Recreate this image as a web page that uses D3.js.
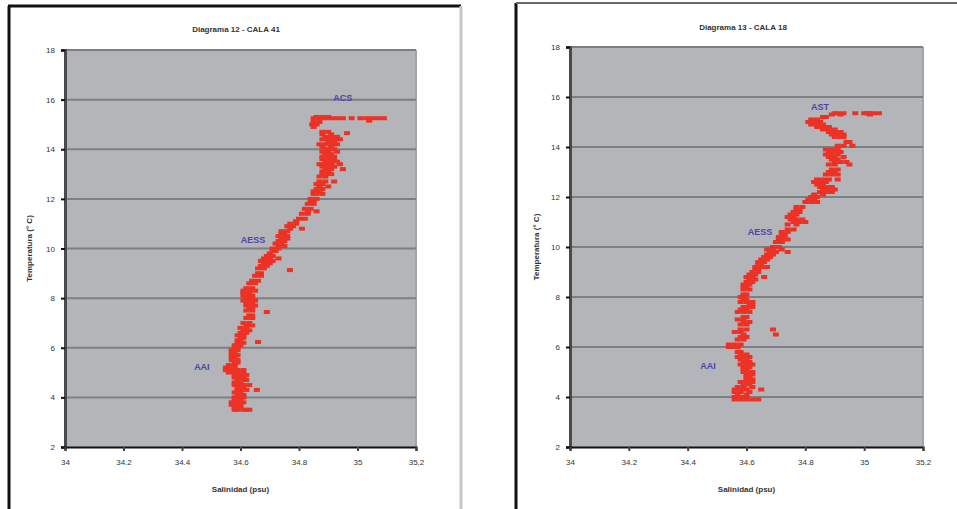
<!DOCTYPE html>
<html>
<head>
<meta charset="utf-8">
<script src="https://cdn.jsdelivr.net/npm/d3@7"></script>
<style>
  html, body { margin: 0; padding: 0; background: #ffffff; }
  svg { display: block; }
</style>
</head>
<body>
<svg id="chart" width="957" height="509"></svg>
<script>
// Axis ticks shared by both T-S diagrams
const salinityTicks = [34, 34.2, 34.4, 34.6, 34.8, 35, 35.2];
const salinityTickLabels = ["34", "34.2", "34.4", "34.6", "34.8", "35", "35.2"];
const temperatureTicks = [2, 4, 6, 8, 10, 12, 14, 16, 18];

const titles = ["Diagrama 12 - CALA 41", "Diagrama 13 - CALA 18"];
const xAxisTitle = "Salinidad (psu)";
const yAxisTitle = "Temperatura (° C)";

// Water-mass labels: [salinity, temperature, text]
const massLabels41 = [[34.95, 16.07, "ACS"], [34.643, 10.34, "AESS"], [34.468, 5.22, "AAI"]];
const massLabels18 = [[34.85, 15.6, "AST"], [34.646, 10.6, "AESS"], [34.469, 5.24, "AAI"]];

// CALA 41 observations: [salinity (psu), temperature (°C)]
const cala41 = [
  [34.85,15.25],[34.87,15.25],[34.89,15.25],[34.91,15.25],[34.93,15.25],[34.95,15.25],
  [34.98,15.25],[35.01,15.25],[35.03,15.25],[35.05,15.25],[35.07,15.25],[35.09,15.25],
  [34.86,15.3],[34.88,15.3],[34.90,15.3],[35.04,15.15],
  [34.85,15.1],[34.87,15.1],[34.845,15.0],[34.86,15.0],[34.85,14.9],[34.964,14.65],
  [34.88,14.7],[34.90,14.7],[34.88,14.6],[34.91,14.6],
  [34.89,14.5],[34.91,14.5],[34.93,14.5],[34.88,14.4],[34.90,14.4],[34.92,14.4],[34.94,14.4],
  [34.90,14.3],[34.92,14.3],[34.87,14.2],[34.89,14.2],[34.91,14.2],[34.93,14.2],
  [34.88,14.1],[34.91,14.1],[34.89,14.0],[34.90,14.0],[34.92,14.0],
  [34.88,13.9],[34.90,13.9],[34.93,13.9],[34.89,13.8],[34.91,13.8],
  [34.88,13.7],[34.90,13.7],[34.92,13.7],[34.88,13.6],[34.90,13.6],[34.92,13.6],
  [34.89,13.5],[34.91,13.5],[34.93,13.5],[34.87,13.4],[34.89,13.4],[34.91,13.4],[34.94,13.4],
  [34.88,13.3],[34.90,13.3],[34.92,13.3],[34.89,13.2],[34.91,13.2],[34.95,13.2],
  [34.88,13.1],[34.90,13.1],[34.88,13.0],[34.90,13.0],[34.91,13.0],[34.87,12.9],[34.89,12.9],
  [34.87,12.7],[34.89,12.7],[34.92,12.7],[34.86,12.6],[34.88,12.6],
  [34.87,12.5],[34.90,12.5],[34.86,12.4],[34.88,12.4],[34.85,12.3],[34.87,12.3],
  [34.85,12.2],[34.86,12.2],[34.88,12.2],[34.84,12.0],[34.86,12.0],
  [34.84,11.9],[34.85,11.9],[34.83,11.8],[34.85,11.8],[34.82,11.6],[34.84,11.6],
  [34.83,11.5],[34.86,11.5],[34.81,11.4],[34.83,11.4],[34.80,11.2],[34.82,11.2],[34.79,11.1],
  [34.77,11.0],[34.79,11.0],[34.76,10.9],[34.78,10.9],[34.77,10.8],[34.81,10.8],
  [34.74,10.7],[34.76,10.7],[34.74,10.6],[34.75,10.6],[34.73,10.5],[34.75,10.5],[34.76,10.5],
  [34.74,10.4],[34.76,10.4],[34.73,10.3],[34.75,10.3],[34.72,10.2],[34.74,10.2],
  [34.73,10.1],[34.75,10.1],[34.71,10.0],[34.73,10.0],[34.71,9.9],[34.72,9.9],[34.70,9.8],
  [34.69,9.7],[34.71,9.7],[34.68,9.6],[34.70,9.6],[34.73,9.6],
  [34.67,9.5],[34.69,9.5],[34.71,9.5],[34.68,9.4],[34.70,9.4],
  [34.67,9.3],[34.69,9.3],[34.769,9.13],[34.66,9.2],[34.68,9.2],
  [34.66,9.0],[34.67,9.0],[34.65,8.9],[34.67,8.9],[34.64,8.7],[34.66,8.7],
  [34.63,8.6],[34.65,8.6],[34.62,8.4],[34.64,8.4],[34.61,8.3],[34.63,8.3],[34.65,8.3],
  [34.61,8.2],[34.63,8.2],[34.61,8.1],[34.62,8.1],[34.64,8.1],[34.62,8.0],[34.64,8.0],
  [34.61,7.9],[34.63,7.9],[34.65,7.9],[34.62,7.8],[34.64,7.8],
  [34.62,7.7],[34.63,7.7],[34.65,7.7],[34.63,7.6],[34.64,7.6],
  [34.62,7.5],[34.64,7.5],[34.69,7.44],[34.63,7.3],[34.64,7.3],[34.62,7.2],[34.64,7.2],
  [34.61,7.0],[34.63,7.0],[34.62,6.9],[34.64,6.9],[34.60,6.8],[34.62,6.8],
  [34.61,6.7],[34.63,6.7],[34.60,6.6],[34.62,6.6],[34.59,6.5],[34.61,6.5],
  [34.60,6.4],[34.61,6.4],[34.59,6.3],[34.60,6.3],[34.59,6.2],[34.61,6.2],[34.66,6.23],
  [34.58,6.1],[34.60,6.1],[34.58,6.0],[34.59,6.0],[34.57,5.9],[34.59,5.9],
  [34.57,5.8],[34.58,5.8],[34.57,5.7],[34.59,5.7],[34.57,5.6],[34.58,5.6],
  [34.57,5.5],[34.59,5.5],[34.58,5.4],[34.59,5.4],[34.56,5.3],[34.58,5.3],
  [34.55,5.2],[34.56,5.2],[34.58,5.2],[34.55,5.1],[34.57,5.1],[34.59,5.1],[34.61,5.1],
  [34.56,5.0],[34.58,5.0],[34.59,5.0],[34.61,5.0],[34.58,4.9],[34.60,4.9],[34.62,4.9],
  [34.58,4.8],[34.60,4.8],[34.61,4.8],[34.59,4.7],[34.61,4.7],[34.62,4.7],
  [34.58,4.6],[34.60,4.6],[34.58,4.5],[34.59,4.5],[34.61,4.5],[34.63,4.5],
  [34.59,4.4],[34.61,4.4],[34.59,4.3],[34.60,4.3],[34.62,4.3],[34.656,4.3],
  [34.58,4.2],[34.60,4.2],[34.59,4.1],[34.61,4.1],[34.58,4.0],[34.59,4.0],[34.61,4.0],
  [34.58,3.9],[34.60,3.9],[34.57,3.8],[34.59,3.8],[34.61,3.8],
  [34.57,3.7],[34.59,3.7],[34.60,3.7],[34.58,3.6],[34.60,3.6],
  [34.58,3.5],[34.59,3.5],[34.61,3.5],[34.62,3.5],[34.63,3.5]
];

// CALA 18 observations: [salinity (psu), temperature (°C)]
const cala18 = [
  [34.90,15.35],[34.91,15.35],[34.93,15.35],[34.97,15.35],[35.00,15.35],[35.01,15.35],
  [35.02,15.35],[35.03,15.35],[35.05,15.35],[34.89,15.3],[34.92,15.3],[35.02,15.3],
  [34.86,15.2],[34.87,15.2],[34.82,15.1],[34.84,15.1],
  [34.81,15.0],[34.83,15.0],[34.85,15.0],[34.82,14.9],[34.84,14.9],[34.86,14.9],
  [34.84,14.8],[34.86,14.8],[34.88,14.8],[34.86,14.7],[34.88,14.7],[34.90,14.7],
  [34.88,14.6],[34.90,14.6],[34.92,14.6],[34.89,14.5],[34.91,14.5],[34.93,14.5],
  [34.90,14.4],[34.92,14.4],[34.93,14.4],[34.94,14.2],[34.95,14.2],
  [34.91,14.05],[34.93,14.05],[34.96,14.05],[34.87,13.9],[34.89,13.9],[34.91,13.9],
  [34.88,13.8],[34.90,13.8],[34.92,13.8],[34.87,13.7],[34.89,13.7],[34.91,13.7],
  [34.88,13.6],[34.90,13.6],[34.93,13.6],[34.89,13.5],[34.91,13.5],
  [34.90,13.4],[34.92,13.4],[34.94,13.4],[34.88,13.3],[34.90,13.3],[34.95,13.3],
  [34.89,13.1],[34.91,13.1],[34.88,13.0],[34.90,13.0],[34.87,12.9],[34.89,12.9],[34.91,12.9],
  [34.84,12.7],[34.86,12.7],[34.88,12.7],[34.91,12.7],[34.83,12.6],[34.85,12.6],[34.87,12.6],
  [34.84,12.5],[34.86,12.5],[34.85,12.4],[34.87,12.4],[34.89,12.4],
  [34.86,12.3],[34.88,12.3],[34.90,12.3],[34.85,12.2],[34.87,12.2],[34.89,12.2],
  [34.83,12.1],[34.86,12.1],[34.82,12.0],[34.84,12.0],[34.81,11.9],[34.83,11.9],
  [34.80,11.8],[34.82,11.8],[34.84,11.8],[34.77,11.6],[34.79,11.6],[34.77,11.5],[34.78,11.5],
  [34.76,11.4],[34.78,11.4],[34.75,11.3],[34.77,11.3],[34.74,11.2],[34.76,11.2],
  [34.75,11.1],[34.77,11.1],[34.79,11.1],[34.76,11.0],[34.78,11.0],[34.80,11.0],
  [34.74,10.9],[34.77,10.9],[34.74,10.7],[34.76,10.7],[34.72,10.6],[34.74,10.6],
  [34.72,10.5],[34.73,10.5],[34.71,10.4],[34.73,10.4],[34.71,10.3],[34.72,10.3],[34.74,10.3],
  [34.70,10.2],[34.72,10.2],[34.69,10.0],[34.71,10.0],[34.67,9.9],[34.69,9.9],[34.72,9.9],
  [34.68,9.8],[34.70,9.8],[34.74,9.8],[34.67,9.7],[34.69,9.7],[34.66,9.6],[34.68,9.6],
  [34.65,9.5],[34.67,9.5],[34.64,9.4],[34.66,9.4],[34.64,9.3],[34.65,9.3],
  [34.63,9.2],[34.65,9.2],[34.67,9.2],[34.63,9.1],[34.64,9.1],[34.62,9.0],[34.64,9.0],
  [34.61,8.9],[34.63,8.9],[34.60,8.8],[34.62,8.8],[34.66,8.8],[34.61,8.7],[34.63,8.7],
  [34.60,8.6],[34.62,8.6],[34.59,8.5],[34.61,8.5],[34.59,8.4],[34.60,8.4],
  [34.59,8.3],[34.61,8.3],[34.59,8.1],[34.60,8.1],[34.58,8.0],[34.59,8.0],
  [34.59,7.9],[34.60,7.9],[34.58,7.8],[34.60,7.8],[34.62,7.8],[34.61,7.7],[34.62,7.7],
  [34.59,7.6],[34.61,7.6],[34.62,7.6],[34.58,7.5],[34.60,7.5],
  [34.57,7.4],[34.59,7.4],[34.61,7.4],[34.59,7.2],[34.60,7.2],[34.57,7.1],[34.59,7.1],
  [34.59,7.0],[34.61,7.0],[34.58,6.9],[34.60,6.9],[34.58,6.7],[34.60,6.7],[34.69,6.7],
  [34.56,6.6],[34.58,6.6],[34.59,6.5],[34.70,6.5],[34.58,6.4],[34.60,6.4],
  [34.57,6.3],[34.59,6.3],[34.54,6.1],[34.56,6.1],[34.58,6.1],
  [34.54,6.0],[34.55,6.0],[34.57,6.0],[34.57,5.8],[34.58,5.8],[34.58,5.7],[34.60,5.7],
  [34.57,5.6],[34.59,5.6],[34.61,5.6],[34.58,5.5],[34.60,5.5],[34.59,5.4],[34.61,5.4],
  [34.58,5.3],[34.60,5.3],[34.62,5.3],[34.59,5.2],[34.61,5.2],[34.59,5.1],[34.60,5.1],
  [34.59,5.0],[34.61,5.0],[34.62,5.0],[34.60,4.9],[34.62,4.9],[34.60,4.8],[34.61,4.8],
  [34.60,4.7],[34.62,4.7],[34.58,4.6],[34.60,4.6],[34.62,4.6],[34.59,4.5],[34.61,4.5],
  [34.57,4.4],[34.59,4.4],[34.62,4.4],[34.56,4.3],[34.58,4.3],[34.60,4.3],[34.65,4.3],
  [34.56,4.2],[34.58,4.2],[34.61,4.2],[34.57,4.1],[34.60,4.1],
  [34.56,4.0],[34.58,4.0],[34.60,4.0],
  [34.56,3.9],[34.58,3.9],[34.60,3.9],[34.62,3.9],[34.64,3.9]
];

const svg = d3.select("#chart");
const FONT = "'Liberation Sans', Arial, sans-serif";

// Outer frames of the two embedded charts
svg.append("line").attr("x1", 9).attr("y1", 6).attr("x2", 9).attr("y2", 509)
  .attr("stroke", "#111").attr("stroke-width", 3);
svg.append("line").attr("x1", 8).attr("y1", 6).attr("x2", 461).attr("y2", 6)
  .attr("stroke", "#111").attr("stroke-width", 3);
svg.append("line").attr("x1", 461).attr("y1", 6).attr("x2", 461).attr("y2", 509)
  .attr("stroke", "#c8c8c8").attr("stroke-width", 3);
svg.append("line").attr("x1", 516).attr("y1", 3).attr("x2", 516).attr("y2", 509)
  .attr("stroke", "#111").attr("stroke-width", 3);
svg.append("line").attr("x1", 516).attr("y1", 3).attr("x2", 957).attr("y2", 3)
  .attr("stroke", "#6a6a6a").attr("stroke-width", 2);

function drawPanel(opts) {
  const { left, right, top, bottom, data, labels, title, titleX, titleY, yTitleX } = opts;

  const x = d3.scaleLinear().domain([34, 35.2]).range([left, right]);
  const y = d3.scaleLinear().domain([2, 18]).range([bottom, top]);

  const g = svg.append("g");

  // plot area
  g.append("rect")
    .attr("x", left).attr("y", top)
    .attr("width", right - left).attr("height", bottom - top)
    .attr("fill", "#b3b5b8");
  g.append("line")
    .attr("x1", right).attr("x2", right).attr("y1", top).attr("y2", bottom)
    .attr("stroke", "#a2a4a6").attr("stroke-width", 2);

  // horizontal gridlines
  g.append("g")
    .selectAll("line")
    .data(temperatureTicks.filter(t => t > 2))
    .join("line")
    .attr("x1", left).attr("x2", right)
    .attr("y1", d => y(d)).attr("y2", d => y(d))
    .attr("stroke", "#7e7f81").attr("stroke-width", 2);

  // scatter of observations
  g.append("g")
    .selectAll("rect")
    .data(data)
    .join("rect")
    .attr("x", d => x(d[0]) - 3)
    .attr("y", d => y(d[1]) - 2)
    .attr("width", 6).attr("height", 4)
    .attr("fill", "#ee3125");

  // Y axis
  const yAxis = d3.axisLeft(y).tickValues(temperatureTicks).tickSize(4).tickPadding(6)
    .tickFormat(d3.format("d"));
  const ya = g.append("g").attr("transform", `translate(${left},0)`).call(yAxis);
  ya.select(".domain").attr("stroke", "#4a4a4a").attr("stroke-width", 3);
  ya.selectAll(".tick line").attr("stroke", "#111").attr("stroke-width", 2);
  ya.selectAll(".tick text").attr("font-family", FONT).attr("font-size", 8).attr("fill", "#333");

  // X axis
  const xAxis = d3.axisBottom(x).tickValues(salinityTicks).tickSize(4).tickPadding(8)
    .tickFormat((d, i) => salinityTickLabels[i]);
  const xa = g.append("g").attr("transform", `translate(0,${bottom})`).call(xAxis);
  xa.select(".domain").attr("stroke", "#111").attr("stroke-width", 2);
  xa.selectAll(".tick line").attr("stroke", "#444").attr("stroke-width", 2);
  xa.selectAll(".tick text").attr("font-family", FONT).attr("font-size", 8).attr("fill", "#333");

  // titles
  g.append("text")
    .attr("x", titleX).attr("y", titleY)
    .attr("text-anchor", "middle")
    .attr("font-family", FONT).attr("font-size", 8).attr("font-weight", "bold")
    .attr("fill", "#333")
    .text(title);
  g.append("text")
    .attr("x", (left + right) / 2).attr("y", bottom + 45)
    .attr("text-anchor", "middle")
    .attr("font-family", FONT).attr("font-size", 8).attr("font-weight", "bold")
    .attr("fill", "#333")
    .text(xAxisTitle);
  g.append("text")
    .attr("transform", `translate(${yTitleX},${(top + bottom) / 2}) rotate(-90)`)
    .attr("text-anchor", "middle")
    .attr("font-family", FONT).attr("font-size", 8).attr("font-weight", "bold")
    .attr("fill", "#333")
    .text(yAxisTitle);

  // water-mass labels
  g.append("g")
    .selectAll("text")
    .data(labels)
    .join("text")
    .attr("x", d => x(d[0])).attr("y", d => y(d[1]))
    .attr("dy", "0.35em")
    .attr("text-anchor", "middle")
    .attr("font-family", FONT).attr("font-size", 9).attr("font-weight", "bold")
    .attr("fill", "#4a46a8")
    .text(d => d[2]);
}

drawPanel({
  left: 65, right: 416, top: 50, bottom: 447,
  data: cala41, labels: massLabels41, title: titles[0],
  titleX: 236, titleY: 32, yTitleX: 32
});

drawPanel({
  left: 570, right: 923, top: 47, bottom: 447,
  data: cala18, labels: massLabels18, title: titles[1],
  titleX: 743, titleY: 30, yTitleX: 539
});
</script>
</body>
</html>
